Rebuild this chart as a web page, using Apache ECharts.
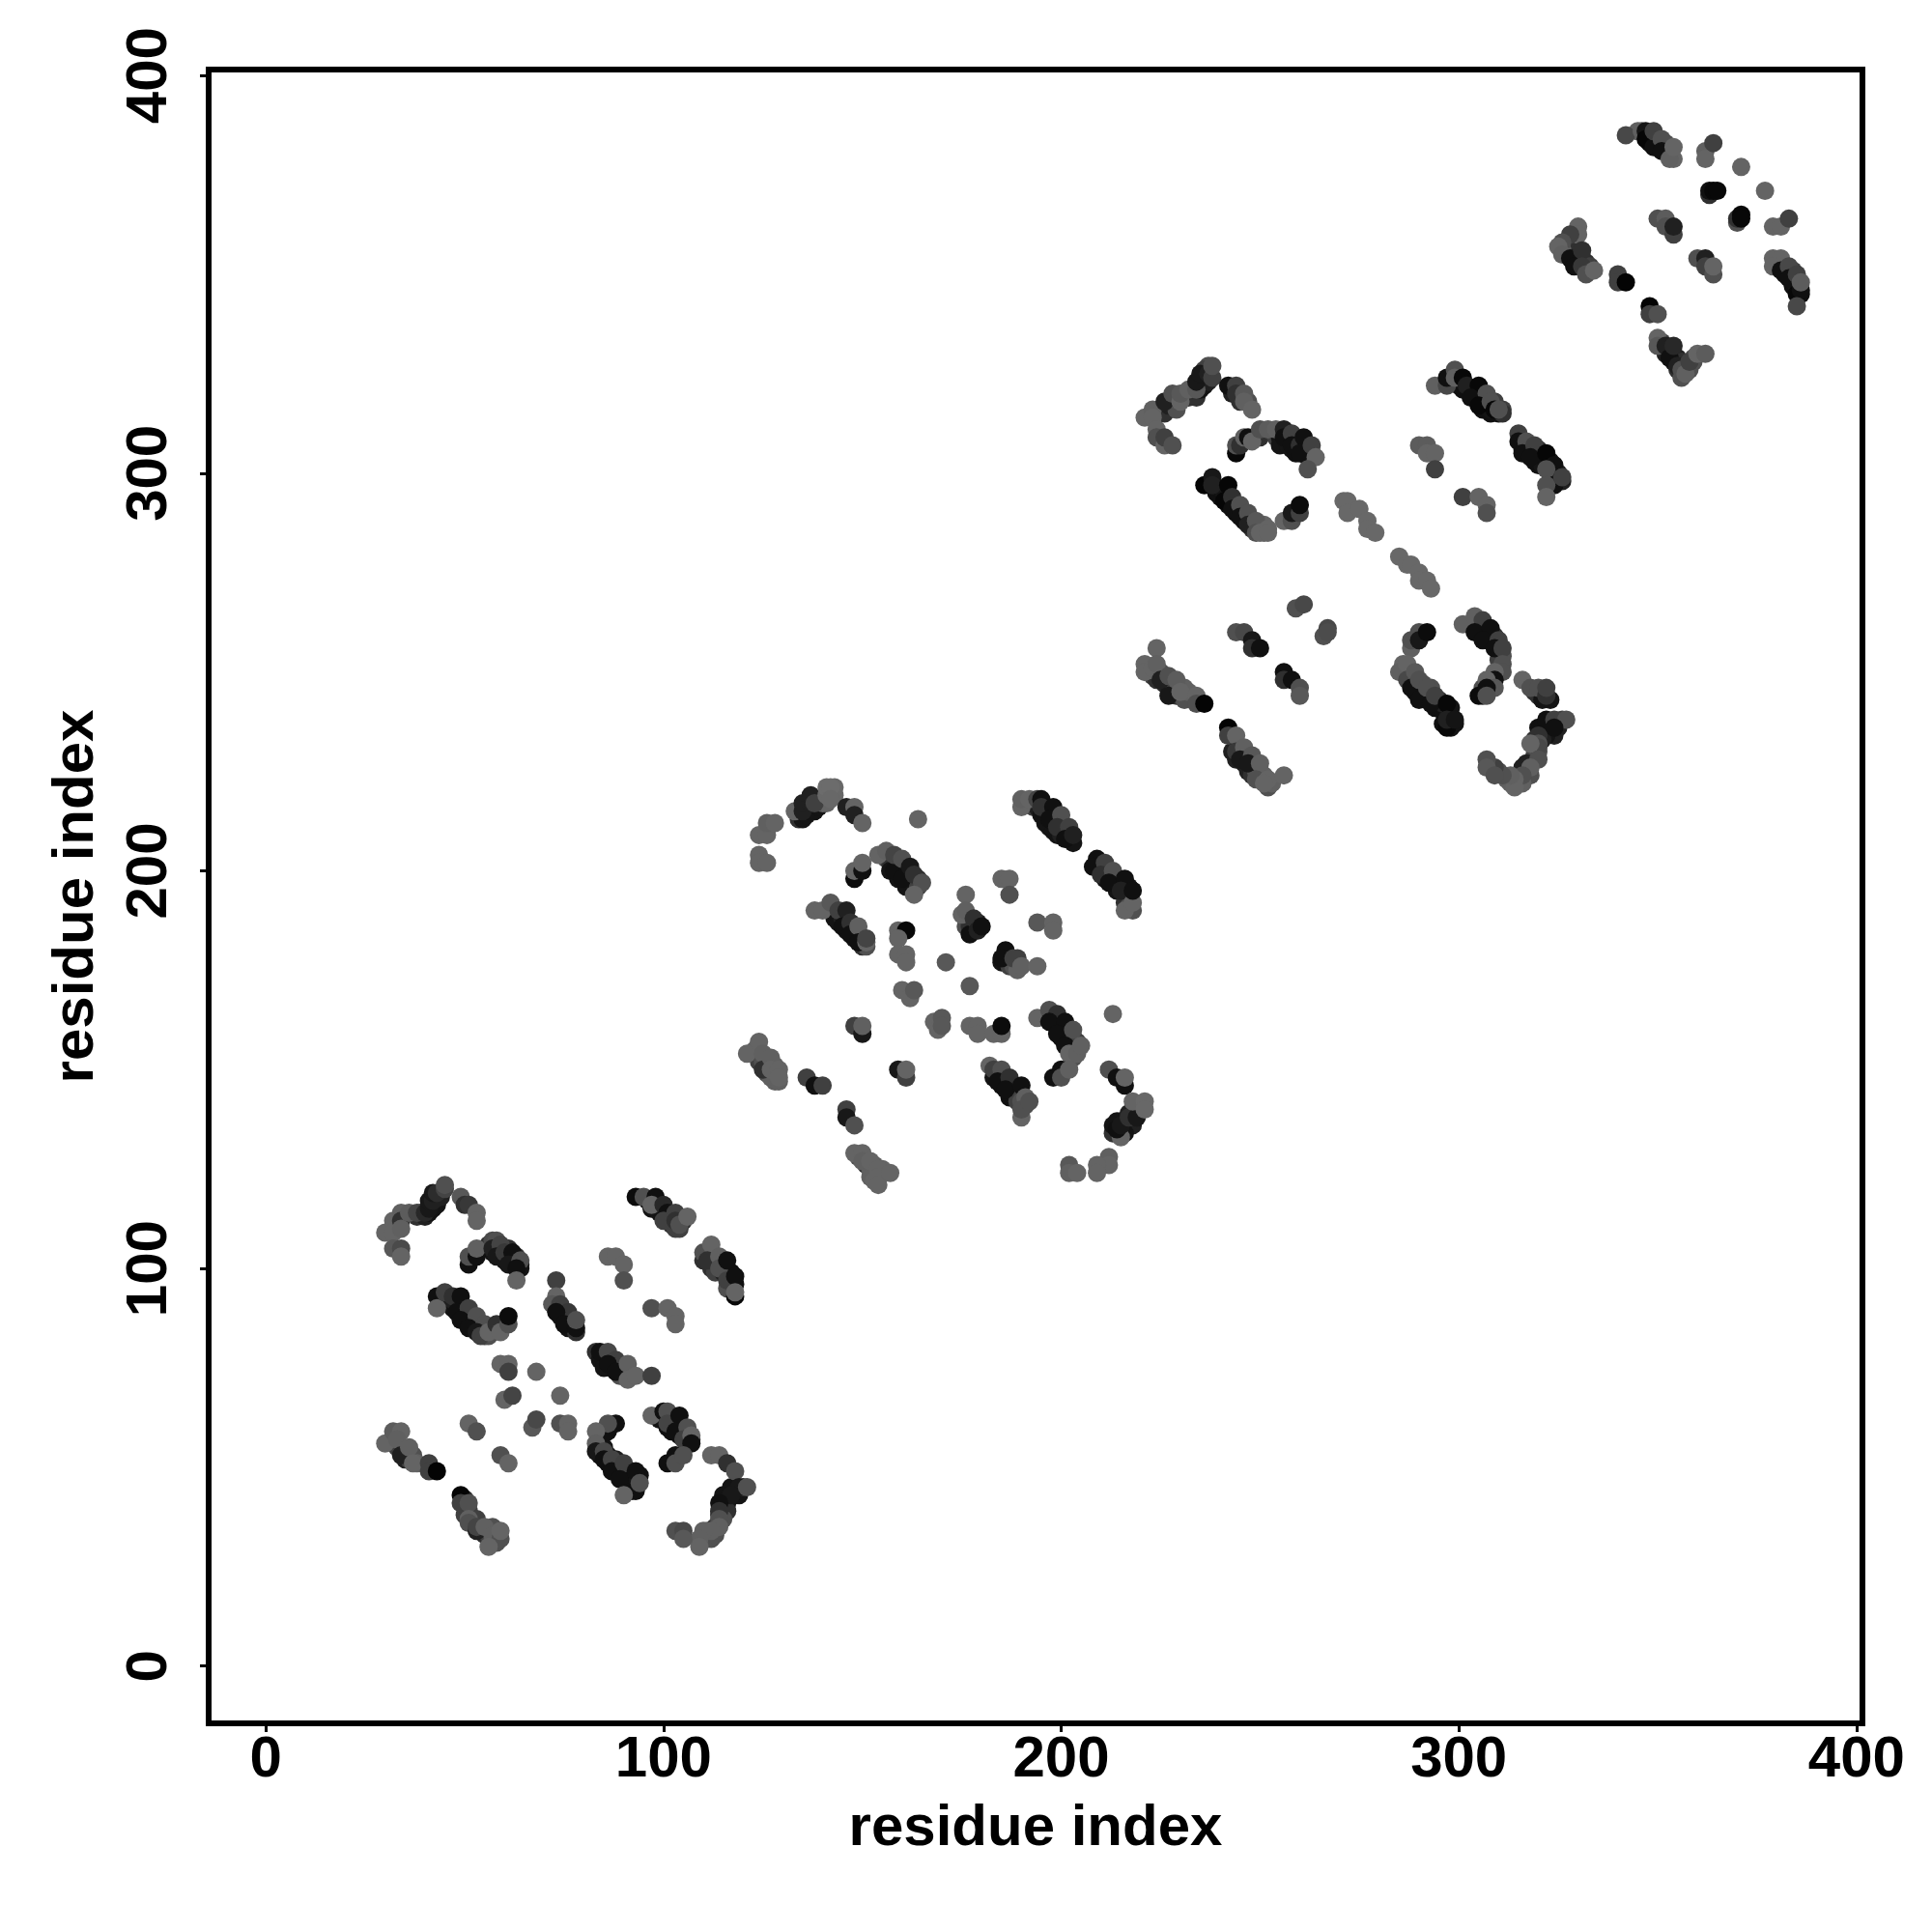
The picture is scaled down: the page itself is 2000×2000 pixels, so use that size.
<!DOCTYPE html>
<html><head><meta charset="utf-8">
<style>html,body{margin:0;padding:0;background:#fff}#c{width:2000px;height:2000px}</style>
<script src="https://cdn.jsdelivr.net/npm/echarts@6/dist/echarts.min.js"></script>
</head><body><div id="c"></div>
<script>
const axisTicks = [0, 100, 200, 300, 400];
const axisTitle = 'residue index';
// Each contact: [residue i, residue j, grey level]. Dense band members are drawn first.
const bandsA = [[38,113,0x30],[39,114,0x20],[40,113,0x20],[41,114,0x14],[42,115,0x14],[43,116,0x14],[44,118,0x20],
[56,106,0x30],[57,104,0x14],[58,104,0x14],[59,103,0x14],[60,102,0x14],[61,102,0x14],[62,101,0x14],[63,101,0x14],[64,100,0x14],[64,101,0x14],[60,105,0x30],[61,105,0x30],[63,103,0x30],
[44,92,0x14],[46,91,0x14],[47,90,0x14],[47,92,0x20],[48,91,0x20],[49,90,0x14],[50,88,0x14],[50,90,0x30],[51,87,0x14],[52,86,0x14],[53,86,0x30],[54,85,0x30],[55,83,0x30],[56,83,0x50],[57,84,0x50],
[73,91,0x20],[74,90,0x14],[74,88,0x14],[75,88,0x14],[76,87,0x14],[76,85,0x14],[77,85,0x14],[78,84,0x30],
[83,79,0x30],[84,77,0x14],[85,77,0x14],[85,75,0x14],[87,75,0x14],[87,77,0x30],[89,75,0x30],[89,73,0x50],[90,74,0x50],[91,74,0x50],
[96,117,0x14],[97,115,0x14],[98,116,0x14],[99,114,0x14],[99,115,0x14],[100,113,0x14],[101,112,0x20],[102,111,0x30],[103,110,0x40],[104,110,0x40],[105,112,0x30],
[110,102,0x30],[111,104,0x30],[112,102,0x20],[112,100,0x30],[113,101,0x20],[113,99,0x40],[115,99,0x20],[115,101,0x30],[117,99,0x10],[117,96,0x40],[116,95,0x50],[118,96,0x10],
[32,57,0x50],[33,55,0x40],[34,55,0x40],[35,53,0x30],[35,52,0x20],[36,52,0x40],[37,53,0x50],[38,51,0x60],
[50,42,0x30],[50,38,0x40],[51,39,0x40],[52,36,0x30],[53,37,0x40],[54,34,0x20],[55,33,0x30],[56,33,0x40],[57,32,0x50],[57,35,0x50],[58,33,0x50],[58,31,0x50],
[84,57,0x30],[84,55,0x10],[84,53,0x14],[85,55,0x14],[86,51,0x10],[86,53,0x14],[87,51,0x14],[88,50,0x10],[88,52,0x20],[89,50,0x14],[90,48,0x10],[90,49,0x14],[91,47,0x10],[91,49,0x10],[92,46,0x10],[92,49,0x10],[93,46,0x14],[94,48,0x10],[92,44,0x10],
[99,62,0x14],[100,62,0x14],[101,60,0x10],[102,59,0x10],[102,62,0x30],[104,58,0x10],[105,59,0x30],[106,56,0x10],[106,58,0x30],[107,57,0x20],
[116,41,0x14],[115,43,0x14],[117,45,0x14],[118,43,0x14],[119,43,0x14],[120,45,0x30],[115,39,0x30],[116,39,0x30],[114,38,0x40],[115,37,0x50],[111,32,0x50],[110,32,0x50],[112,32,0x50],[111,34,0x60],[113,35,0x30],[113,33,0x50]];
const bandsB = [[134,213,0x30],[135,213,0x14],[136,214,0x14],[136,216,0x20],[137,215,0x14],[138,215,0x14],[139,216,0x14],[139,218,0x40],[140,217,0x60],[141,217,0x64],[143,219,0x68],[143,221,0x68],
[156,203,0x50],[157,202,0x30],[157,200,0x14],[159,198,0x14],[159,201,0x30],[160,200,0x30],[161,198,0x14],[161,196,0x14],[162,197,0x14],[163,196,0x14],[164,198,0x30],[164,196,0x40],
[143,188,0x14],[144,187,0x14],[145,188,0x20],[146,187,0x14],[146,185,0x14],[147,185,0x14],[148,183,0x14],[148,185,0x20],[149,184,0x40],[150,183,0x30],[150,181,0x30],[151,181,0x50],
[176,186,0x50],[177,187,0x30],[178,186,0x14],[178,185,0x10],[179,187,0x20],[177,186,0x30],
[185,177,0x14],[186,177,0x14],[187,176,0x40],[187,178,0x20],[188,176,0x50],[189,175,0x60],[189,178,0x40],
[193,216,0x40],[194,216,0x20],[195,214,0x14],[196,214,0x14],[196,212,0x14],[197,211,0x14],[198,213,0x20],[198,210,0x14],[199,209,0x14],[200,209,0x20],[201,210,0x30],[202,208,0x14],[200,211,0x20],[203,207,0x14],
[209,201,0x14],[210,201,0x14],[211,200,0x14],[211,198,0x14],[212,199,0x20],[213,197,0x14],[214,198,0x14],[214,195,0x14],[215,197,0x14],[216,194,0x14],[217,196,0x14],[216,192,0x30],[217,193,0x30],[217,191,0x50],
[124,154,0x60],[123,155,0x60],[124,152,0x40],[125,152,0x50],[126,151,0x30],[126,149,0x50],[127,148,0x60],[128,149,0x60],[128,147,0x60],[129,147,0x60],[128,151,0x60],
[149,128,0x50],[151,126,0x30],[152,125,0x60],[153,126,0x60],[152,123,0x60],[153,122,0x64],[155,124,0x64],[155,125,0x64],
[183,148,0x14],[184,149,0x30],[185,146,0x10],[186,148,0x20],[187,146,0x14],[187,143,0x10],[188,145,0x14],[189,144,0x14],[189,142,0x40],[190,143,0x40],[191,141,0x50],[190,142,0x50],
[199,161,0x14],[200,161,0x14],[200,158,0x10],[201,159,0x14],[202,158,0x14],[202,160,0x20],[203,158,0x30],[203,156,0x14],[204,157,0x40],[204,155,0x30],[203,153,0x50],
[214,137,0x14],[215,137,0x14],[216,135,0x14],[216,137,0x14],[217,136,0x14],[218,136,0x20],[218,140,0x40],[219,140,0x30],[220,141,0x50],[217,139,0x20],[216,134,0x14],[215,135,0x14],[214,134,0x20],[213,134,0x30],[213,136,0x14]];
const bandsC = [[225,316,0x50],[226,315,0x30],[227,317,0x20],[228,318,0x30],[229,316,0x50],[231,319,0x40],[232,319,0x30],[233,321,0x14],[233,320,0x14],[234,319,0x30],[235,321,0x14],[235,323,0x14],[236,322,0x14],[236,324,0x14],[237,323,0x20],[237,327,0x50],[236,326,0x40],
[243,320,0x20],[245,318,0x30],[247,318,0x50],
[250,309,0x30],[254,309,0x40],[255,309,0x14],[255,307,0x14],[257,307,0x14],[258,306,0x14],[259,305,0x10],[259,308,0x14],[261,305,0x14],[262,304,0x10],[261,307,0x14],[262,306,0x20],[263,305,0x40],
[239,295,0x10],[240,294,0x10],[240,296,0x10],[241,295,0x14],[242,292,0x10],[243,293,0x20],[244,290,0x10],[244,292,0x30],[246,288,0x10],[246,290,0x30],[247,289,0x40],[248,286,0x30],[248,288,0x50],[249,287,0x50],[250,287,0x60],[251,285,0x60],[251,287,0x64],
[300,322,0x14],[301,321,0x10],[303,321,0x14],[304,319,0x10],[304,321,0x30],[305,319,0x14],[306,318,0x20],[306,316,0x10],[307,318,0x30],[308,315,0x10],[308,316,0x14],[309,318,0x40],[310,315,0x10],[311,316,0x40],[311,315,0x30],
[316,306,0x10],[316,308,0x20],[317,306,0x14],[318,306,0x30],[319,303,0x10],[320,302,0x10],[320,304,0x14],[320,306,0x30],[321,302,0x14],[322,303,0x10],[323,301,0x10],[323,303,0x14],[324,299,0x14],[325,300,0x20],[325,298,0x14],[323,298,0x14],[326,298,0x20],
[222,250,0x50],[223,249,0x40],[224,248,0x30],[224,250,0x60],[225,250,0x50],[226,247,0x30],[227,246,0x20],[228,245,0x20],[228,247,0x40],[229,244,0x30],[229,246,0x40],[230,244,0x40],[231,246,0x60],[231,243,0x50],[232,245,0x60],
[243,230,0x20],[244,228,0x20],[245,230,0x40],[246,227,0x20],[246,229,0x40],[247,225,0x20],[248,226,0x40],[248,224,0x30],[249,225,0x50],[250,223,0x40],[250,225,0x50],[251,224,0x60],[252,221,0x50],[253,222,0x60],
[286,250,0x60],[287,249,0x30],[288,250,0x50],[289,248,0x40],[289,245,0x10],[290,246,0x20],[291,245,0x14],[291,247,0x50],[292,243,0x10],[293,244,0x20],[293,246,0x50],[294,241,0x10],[295,243,0x30],[295,241,0x10],[296,240,0x10],[296,242,0x20],[298,241,0x14],[298,239,0x14],[296,237,0x10],[298,236,0x14],[299,237,0x14],
[305,261,0x14],[306,260,0x14],[307,259,0x10],[307,261,0x30],[308,258,0x14],[309,259,0x30],[310,256,0x14],[310,255,0x30],[311,254,0x50],[310,253,0x40],[310,250,0x50],[308,247,0x30],[306,246,0x50],[306,244,0x20],
[319,245,0x30],[320,244,0x30],[321,245,0x30],[321,243,0x14],[323,243,0x14],
[321,236,0x14],[322,236,0x14],[323,237,0x14],[323,235,0x10],[325,237,0x30],[326,238,0x40],[325,236,0x20],[324,234,0x20],[322,234,0x14],[321,233,0x20],[319,233,0x30],[319,231,0x40],[319,229,0x40],[320,230,0x50],[317,227,0x20],[318,224,0x50],[316,223,0x50],[315,222,0x50],[315,224,0x50],[313,222,0x60],[312,223,0x60],[316,222,0x60],[310,225,0x50]];
const bandsD = [[345,386,0x60],[348,385,0x20],[348,383,0x10],[349,384,0x20],[350,382,0x14],[350,384,0x40],[352,381,0x40],[352,383,0x50],[353,381,0x50],[353,382,0x60],
[327,356,0x40],[328,358,0x50],[327,357,0x50],[329,355,0x14],[330,355,0x14],[330,353,0x14],[331,354,0x30],[332,353,0x30],[333,352,0x40],[332,352,0x40],[329,357,0x40],[328,356,0x30],[326,356,0x60],
[351,333,0x40],[352,330,0x20],[353,331,0x20],[354,329,0x14],[354,328,0x14],[355,329,0x20],[355,326,0x30],[356,328,0x30],[357,327,0x40],[358,326,0x50],[359,328,0x50],[359,329,0x50],[356,324,0x50],
[380,353,0x50],[382,351,0x30],[382,350,0x14],[382,352,0x40],[383,350,0x30],[384,349,0x14],[384,347,0x10],[385,347,0x14],[386,345,0x10],[384,351,0x40],[385,349,0x30]];

const contactsA = [[30,109,0x64],[32,112,0x64],[32,109,0x64],[34,114,0x60],[34,112,0x30],[34,110,0x60],[32,105,0x58],[34,105,0x4a],[34,103,0x64],[36,114,0x5c],[38,114,0x44],[40,114,0x28],[41,115,0x18],[41,117,0x18],[42,117,0x20],[42,119,0x18],[43,119,0x2c],[45,120,0x44],[45,121,0x50],[49,118,0x58],[50,116,0x30],[51,116,0x38],[53,114,0x64],[53,112,0x64],
[51,101,0x10],[51,103,0x50],[53,103,0x10],[53,105,0x60],[57,107,0x4a],[58,107,0x50],[57,105,0x20],[59,106,0x44],[58,103,0x18],[60,104,0x38],[62,104,0x10],[61,101,0x18],[64,102,0x50],[63,100,0x10],[63,97,0x64],
[43,93,0x10],[43,90,0x64],[45,94,0x40],[47,93,0x30],[49,93,0x10],[48,89,0x10],[51,90,0x40],[49,87,0x10],[53,88,0x50],[51,85,0x10],[55,86,0x50],[53,84,0x18],[54,83,0x40],[56,84,0x64],[58,86,0x30],[59,84,0x64],[61,86,0x50],[61,88,0x0c],
[59,76,0x64],[61,76,0x64],[61,74,0x40],[68,74,0x64],[60,67,0x64],[62,68,0x44],[74,68,0x64],[67,60,0x58],[68,62,0x48],[74,61,0x50],[76,61,0x64],[76,59,0x64],
[73,97,0x40],[73,93,0x64],[72,91,0x58],[74,91,0x40],[76,89,0x38],[73,89,0x10],[75,86,0x10],[78,85,0x10],[78,87,0x50],
[84,79,0x10],[86,79,0x48],[88,77,0x40],[86,76,0x10],[88,74,0x10],[91,76,0x60],[91,72,0x64],[93,73,0x64],[97,73,0x40],
[93,118,0x0c],[95,118,0x50],[98,118,0x10],[97,116,0x64],[100,116,0x28],[101,114,0x10],[100,112,0x40],[103,114,0x40],[103,112,0x30],[104,111,0x50],[106,113,0x64],
[110,104,0x50],[112,106,0x64],[111,102,0x30],[114,103,0x60],[114,100,0x50],[116,102,0x10],[116,97,0x40],[118,98,0x10],[118,93,0x08],[118,94,0x64],
[86,103,0x64],[88,103,0x64],[90,101,0x64],[90,97,0x50],[97,90,0x50],[101,90,0x64],[103,88,0x64],[103,86,0x64],
[30,56,0x64],[32,59,0x5c],[34,59,0x64],[33,57,0x60],[34,53,0x20],[36,55,0x60],[37,51,0x64],[41,51,0x40],[41,49,0x40],[43,49,0x04],
[49,43,0x04],[49,41,0x40],[51,41,0x50],[51,37,0x60],[51,36,0x50],[53,34,0x20],[53,35,0x44],[55,35,0x60],[57,33,0x60],[59,32,0x50],[59,34,0x64],[56,30,0x64],
[51,61,0x64],[53,59,0x50],[59,53,0x50],[61,51,0x64],
[88,61,0x10],[86,59,0x10],[86,61,0x50],[83,59,0x64],[83,56,0x60],[83,54,0x18],[85,54,0x48],[85,52,0x10],[87,52,0x44],[87,49,0x10],[90,51,0x40],[89,47,0x10],[93,49,0x10],[93,44,0x10],[90,43,0x64],[94,46,0x50],
[97,63,0x64],[100,64,0x10],[101,64,0x50],[101,61,0x44],[104,63,0x10],[103,59,0x10],[106,60,0x50],[105,57,0x40],[107,58,0x64],[107,56,0x10],[101,51,0x10],[103,53,0x10],[103,51,0x50],[105,53,0x50],
[112,53,0x64],[114,53,0x64],[116,51,0x30],[118,49,0x50],[119,45,0x18],[117,43,0x18],[114,41,0x10],[114,39,0x30],[114,37,0x50],[114,35,0x60],[112,34,0x60],[110,34,0x60],[109,32,0x60],[109,30,0x64],[103,34,0x50],[105,34,0x48],[105,32,0x58],[121,45,0x50]];

const contactsB = [[124,209,0x64],[126,209,0x64],[126,212,0x60],[128,212,0x64],[124,204,0x64],[124,202,0x64],[126,202,0x64],
[133,215,0x64],[135,215,0x20],[135,217,0x20],[137,217,0x20],[137,219,0x20],[138,217,0x40],[141,219,0x68],[141,221,0x6c],[142,221,0x6c],[142,218,0x68],
[146,216,0x20],[148,216,0x64],[148,214,0x20],[150,212,0x64],[164,213,0x64],
[148,198,0x0c],[148,200,0x64],[150,200,0x10],[150,202,0x64],[154,204,0x64],[156,205,0x60],[158,200,0x10],[158,204,0x44],[160,198,0x10],[160,203,0x50],[162,201,0x18],[163,199,0x30],[165,197,0x50],[163,194,0x64],
[138,190,0x64],[140,190,0x64],[142,192,0x58],[144,190,0x40],[146,190,0x20],[145,186,0x10],[147,187,0x30],[147,184,0x10],[149,186,0x60],[149,182,0x10],[151,182,0x64],[151,183,0x44],
[159,185,0x64],[161,185,0x08],[159,183,0x64],[159,179,0x64],[161,179,0x64],[161,177,0x64],[171,177,0x58],[177,171,0x58],[160,170,0x64],[162,168,0x64],[163,170,0x58],
[176,194,0x64],[175,189,0x64],[176,190,0x60],[177,184,0x10],[178,188,0x30],[179,185,0x20],[180,186,0x10],
[185,198,0x64],[187,198,0x64],[187,194,0x50],[194,187,0x58],[198,187,0x64],[198,185,0x64],
[186,180,0x10],[185,178,0x10],[188,178,0x40],[190,176,0x60],[194,176,0x64],
[190,216,0x64],[190,218,0x60],[192,218,0x64],[194,218,0x44],[195,218,0x10],[195,216,0x30],[198,216,0x10],[197,213,0x10],[200,214,0x50],[199,211,0x30],[202,211,0x40],[201,208,0x10],[203,209,0x20],
[209,203,0x10],[208,201,0x10],[211,202,0x40],[210,199,0x30],[213,200,0x50],[212,197,0x10],[216,198,0x10],[215,195,0x20],[218,190,0x50],[216,190,0x64],[218,192,0x64],[218,195,0x10],
[121,154,0x64],[124,157,0x64],[125,154,0x60],[125,150,0x30],[127,153,0x60],[127,150,0x64],[129,150,0x64],[129,148,0x64],
[136,148,0x40],[138,146,0x10],[140,146,0x40],[146,140,0x40],[146,138,0x18],[148,136,0x50],
[148,129,0x64],[150,129,0x64],[150,127,0x60],[152,127,0x64],[154,125,0x64],[154,123,0x64],[154,121,0x64],[157,124,0x64],
[148,161,0x40],[150,159,0x18],[150,161,0x60],[159,150,0x18],[161,148,0x40],[161,150,0x64],
[168,162,0x64],[169,160,0x64],[170,163,0x58],[170,161,0x58],
[177,161,0x64],[179,161,0x64],[179,159,0x64],[183,159,0x64],[185,159,0x64],[185,161,0x0c],
[182,151,0x64],[183,150,0x40],[185,150,0x50],[184,147,0x10],[187,148,0x30],[186,145,0x10],[190,146,0x10],[191,143,0x60],[190,138,0x64],[190,140,0x50],[192,142,0x50],
[194,163,0x64],[197,165,0x50],[199,164,0x30],[197,162,0x10],[201,162,0x10],[199,159,0x10],[203,160,0x50],[201,156,0x10],[202,154,0x64],[204,154,0x60],[205,156,0x60],
[198,148,0x10],[200,150,0x10],[200,148,0x50],[202,150,0x60],[213,164,0x64],
[212,150,0x50],[214,148,0x10],[216,146,0x10],[216,148,0x64],
[215,133,0x64],[214,135,0x10],[215,136,0x18],[217,138,0x30],[219,138,0x18],[218,142,0x64],[221,142,0x68],[221,140,0x68],
[212,128,0x60],[212,126,0x64],[209,126,0x64],[209,124,0x64],[202,126,0x58],[202,124,0x60],[204,124,0x64]];

const contactsC = [[221,314,0x64],[223,316,0x60],[223,314,0x64],[224,311,0x64],[224,309,0x50],[226,307,0x64],[226,309,0x40],[228,307,0x50],[226,318,0x20],[228,320,0x50],[230,318,0x64],[230,320,0x58],[232,321,0x60],[234,321,0x58],[234,323,0x18],[235,325,0x18],[237,325,0x20],[238,324,0x40],[238,327,0x50],
[242,322,0x10],[244,322,0x40],[244,320,0x30],[246,320,0x58],[246,318,0x60],[248,316,0x64],
[244,305,0x08],[244,307,0x50],[245,307,0x30],[246,309,0x60],[247,309,0x10],[248,308,0x64],[250,311,0x50],[252,311,0x5c],[254,311,0x60],[256,311,0x20],[256,309,0x10],[258,310,0x40],[258,307,0x10],[260,307,0x30],[261,309,0x10],[260,305,0x10],[263,307,0x40],[264,304,0x64],[262,301,0x50],
[236,297,0x04],[238,299,0x18],[238,297,0x20],[242,297,0x06],[241,293,0x06],[243,294,0x30],[243,291,0x10],[245,292,0x50],[245,289,0x10],[247,290,0x50],[247,287,0x20],[249,288,0x58],[249,285,0x50],[250,285,0x64],[252,286,0x64],[252,285,0x64],
[256,288,0x64],[258,288,0x50],[258,290,0x18],[260,290,0x40],[260,292,0x0c],
[271,293,0x68],[272,293,0x68],[272,290,0x68],[275,291,0x68],[277,288,0x68],[277,286,0x68],[279,285,0x68],[285,279,0x68],[287,277,0x68],[288,277,0x68],[290,275,0x68],[290,273,0x68],[292,273,0x68],[293,271,0x68],
[294,322,0x60],[297,322,0x48],[297,324,0x10],[299,326,0x50],[299,324,0x60],[301,324,0x08],[302,322,0x20],[305,322,0x08],[303,319,0x10],[307,320,0x50],[305,317,0x08],[308,318,0x50],[309,316,0x08],[310,316,0x50],
[315,310,0x40],[315,308,0x10],[317,308,0x50],[316,305,0x10],[319,307,0x40],[318,304,0x10],[322,305,0x06],[324,302,0x10],[322,301,0x50],[324,297,0x10],[322,297,0x50],[322,294,0x64],[326,299,0x40],
[290,307,0x5c],[292,307,0x5c],[292,305,0x64],[294,305,0x64],[294,301,0x40],[301,294,0x40],[305,294,0x64],[307,292,0x64],[307,290,0x50],
[224,256,0x64],[221,252,0x64],[221,250,0x64],[223,251,0x64],[224,252,0x60],[225,248,0x20],[227,249,0x50],[227,244,0x18],[229,248,0x5c],[230,245,0x64],[234,244,0x64],[234,242,0x50],[236,242,0x04],
[242,236,0x04],[242,234,0x40],[244,234,0x64],[244,230,0x38],[246,231,0x60],[245,228,0x18],[248,229,0x58],[247,227,0x18],[250,227,0x60],[249,223,0x50],[252,223,0x64],[251,222,0x64],[256,224,0x64],
[244,260,0x50],[246,260,0x48],[248,258,0x18],[248,256,0x30],[250,256,0x10],
[256,250,0x10],[256,248,0x30],[258,248,0x10],[260,246,0x50],[260,244,0x58],
[259,266,0x50],[261,267,0x48],[266,259,0x50],[267,261,0x48],[267,260,0x4c],
[288,256,0x60],[288,258,0x50],[290,260,0x50],[290,258,0x18],[292,260,0x0c],
[286,252,0x64],[285,250,0x60],[287,252,0x64],[287,248,0x48],[289,250,0x58],[288,246,0x10],[290,248,0x50],[290,243,0x10],[292,246,0x50],[293,242,0x10],[294,244,0x40],[297,242,0x08],[297,236,0x08],[297,238,0x20],[299,238,0x14],
[301,262,0x60],[304,264,0x60],[306,263,0x40],[304,260,0x10],[308,261,0x10],[306,258,0x10],[310,258,0x40],[309,256,0x10],[311,256,0x40],[311,252,0x50],[311,250,0x50],[309,250,0x64],[309,248,0x10],[307,248,0x64],[309,246,0x58],[305,244,0x0c],[307,246,0x10],[307,244,0x50],
[316,248,0x64],[318,246,0x50],[320,246,0x50],[322,244,0x30],[322,246,0x40],
[320,236,0x10],[322,238,0x10],[324,238,0x40],[327,238,0x50],[324,236,0x10],[320,234,0x30],[320,232,0x50],[320,231,0x48],[318,232,0x64],[320,228,0x50],[316,226,0x20],[318,226,0x60],[316,224,0x50],[314,223,0x64],[314,221,0x64],[313,224,0x60],[311,224,0x50],[309,226,0x40],[307,228,0x50],[307,226,0x58],[309,224,0x50]];

const contactsD = [[342,385,0x48],[346,386,0x60],[347,386,0x14],[347,384,0x06],[349,382,0x10],[349,386,0x40],[351,384,0x50],[351,381,0x10],[354,379,0x64],[353,379,0x60],[354,382,0x64],
[362,381,0x60],[362,379,0x64],[364,383,0x40],[371,377,0x64],[377,371,0x64],
[363,370,0x30],[363,371,0x10],[364,371,0x08],[365,371,0x08],
[370,363,0x50],[370,364,0x30],[371,365,0x08],[371,364,0x08],[379,362,0x64],[381,362,0x64],[383,364,0x40],
[350,364,0x50],[352,364,0x5c],[352,362,0x50],[354,360,0x40],[354,362,0x20],
[360,354,0x50],[362,354,0x20],[362,352,0x40],[364,350,0x50],[364,352,0x64],
[330,362,0x64],[330,360,0x64],[328,360,0x40],[326,358,0x50],[325,357,0x64],[326,355,0x60],[328,354,0x10],[329,352,0x10],[331,356,0x30],[331,352,0x38],[332,350,0x50],[334,351,0x64],
[340,350,0x40],[340,348,0x40],[342,348,0x04],[348,342,0x04],[348,340,0x40],[350,340,0x50],
[350,334,0x64],[350,332,0x58],[352,332,0x20],[353,329,0x10],[354,332,0x28],[355,327,0x20],[356,326,0x50],[357,325,0x60],[358,328,0x40],[360,330,0x64],[362,330,0x5c],
[379,354,0x64],[381,354,0x64],[379,352,0x64],[381,351,0x10],[383,352,0x48],[383,349,0x10],[385,345,0x08],[385,350,0x40],[386,346,0x10],[386,348,0x5c],[385,342,0x48]];

const allContacts = bandsA.concat(bandsB, bandsC, bandsD, contactsA, contactsB, contactsC, contactsD);
const fontFamily = '"Liberation Sans", Arial, sans-serif';
const chart = echarts.init(document.getElementById('c'));
const axis = (extra) => Object.assign({
  type: 'value', min: -14.4, max: 401.5,
  splitLine: {show: false}, axisLine: {show: false, onZero: false},
  axisTick: {show: true, length: 9, lineStyle: {color: '#000', width: 3}, customValues: axisTicks},
  name: axisTitle, nameLocation: 'middle', nameMoveOverlap: false,
  nameTextStyle: {fontFamily, fontWeight: 'bold', fontSize: 60, color: '#000'}
}, extra);
const labelStyle = {show: true, customValues: axisTicks, fontFamily, fontWeight: 'bold', fontSize: 60, color: '#000', hideOverlap: false, showMinLabel: true, showMaxLabel: true};
chart.setOption({
  animation: false,
  backgroundColor: '#fff',
  grid: {left: 216, top: 72, width: 1712, height: 1712, show: true, borderColor: '#000', borderWidth: 6, backgroundColor: 'transparent', containLabel: false},
  xAxis: axis({nameGap: 79, axisLabel: Object.assign({margin: 8}, labelStyle)}),
  yAxis: axis({nameGap: 107, axisLabel: Object.assign({margin: 61, rotate: 90, align: 'center', verticalAlign: 'middle'}, labelStyle)}),
  series: [{
    type: 'scatter', symbol: 'circle', symbolSize: 19, silent: true, clip: false,
    data: allContacts,
    itemStyle: {opacity: 1, color: (p) => { const g = p.value[2]; return 'rgb(' + g + ',' + g + ',' + g + ')'; }}
  }]
});
</script></body></html>
